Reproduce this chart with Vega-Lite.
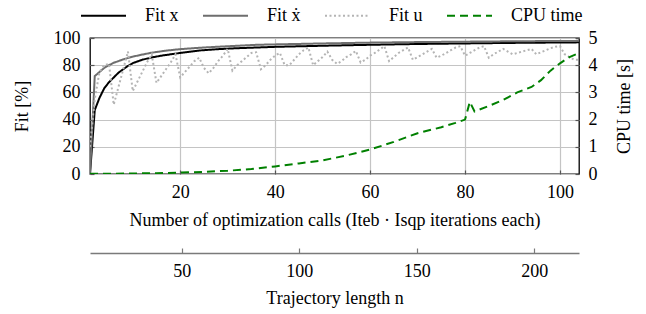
{
  "$schema": "https://vega.github.io/schema/vega-lite/v6.json",
  "width": 489,
  "height": 136,
  "autosize": {"type": "none"},
  "padding": {"left": 90, "top": 38, "right": 67, "bottom": 140},
  "config": {
    "view": {"stroke": "#000000", "strokeWidth": 1.3},
    "axis": {
      "labelFontSize": 18,
      "titleFontSize": 18,
      "titleFontWeight": "normal",
      "labelColor": "#000000",
      "titleColor": "#000000",
      "gridColor": "#c4c4c4",
      "gridWidth": 1.2,
      "tickColor": "#555555",
      "tickWidth": 1.2
    },
    "legend": {"labelFontSize": 18, "labelColor": "#000000", "labelFont": "Liberation Serif"}
  },
  "datasets": {
    "fits": [
      {"s": "x", "k": 1, "v": 0}, {"s": "x", "k": 2, "v": 47}, {"s": "x", "k": 3, "v": 56}, {"s": "x", "k": 4, "v": 63},
      {"s": "x", "k": 5, "v": 67.5}, {"s": "x", "k": 6, "v": 71}, {"s": "x", "k": 7, "v": 74.5}, {"s": "x", "k": 8, "v": 77},
      {"s": "x", "k": 9, "v": 79.5}, {"s": "x", "k": 10, "v": 81.5}, {"s": "x", "k": 12, "v": 84}, {"s": "x", "k": 14, "v": 85.7},
      {"s": "x", "k": 16, "v": 87}, {"s": "x", "k": 18, "v": 88}, {"s": "x", "k": 20, "v": 89}, {"s": "x", "k": 24, "v": 90.8},
      {"s": "x", "k": 28, "v": 91.8}, {"s": "x", "k": 32, "v": 92.5}, {"s": "x", "k": 36, "v": 93}, {"s": "x", "k": 40, "v": 93.5},
      {"s": "x", "k": 50, "v": 94.3}, {"s": "x", "k": 60, "v": 95}, {"s": "x", "k": 70, "v": 95.6}, {"s": "x", "k": 80, "v": 96},
      {"s": "x", "k": 90, "v": 96.4}, {"s": "x", "k": 104, "v": 96.8},
      {"s": "xd", "k": 1, "v": 0}, {"s": "xd", "k": 2, "v": 72}, {"s": "xd", "k": 3, "v": 75}, {"s": "xd", "k": 4, "v": 78},
      {"s": "xd", "k": 5, "v": 80}, {"s": "xd", "k": 6, "v": 81.8}, {"s": "xd", "k": 7, "v": 83}, {"s": "xd", "k": 8, "v": 84.3},
      {"s": "xd", "k": 10, "v": 86.3}, {"s": "xd", "k": 12, "v": 87.8}, {"s": "xd", "k": 14, "v": 89.2}, {"s": "xd", "k": 17, "v": 90.7},
      {"s": "xd", "k": 20, "v": 91.8}, {"s": "xd", "k": 24, "v": 92.8}, {"s": "xd", "k": 28, "v": 93.6}, {"s": "xd", "k": 32, "v": 94.3},
      {"s": "xd", "k": 36, "v": 95}, {"s": "xd", "k": 40, "v": 95.3}, {"s": "xd", "k": 50, "v": 96}, {"s": "xd", "k": 60, "v": 96.6},
      {"s": "xd", "k": 70, "v": 97}, {"s": "xd", "k": 80, "v": 97.3}, {"s": "xd", "k": 90, "v": 97.6}, {"s": "xd", "k": 104, "v": 97.9},
      {"s": "u", "k": 1, "v": 20}, {"s": "u", "k": 2, "v": 55}, {"s": "u", "k": 3, "v": 75}, {"s": "u", "k": 4, "v": 80},
      {"s": "u", "k": 5, "v": 81}, {"s": "u", "k": 6, "v": 51}, {"s": "u", "k": 7, "v": 64}, {"s": "u", "k": 8, "v": 77},
      {"s": "u", "k": 9, "v": 90}, {"s": "u", "k": 10, "v": 61}, {"s": "u", "k": 11, "v": 68}, {"s": "u", "k": 12, "v": 75},
      {"s": "u", "k": 13, "v": 82}, {"s": "u", "k": 14, "v": 88}, {"s": "u", "k": 15, "v": 67}, {"s": "u", "k": 16, "v": 72},
      {"s": "u", "k": 17, "v": 77}, {"s": "u", "k": 18, "v": 82}, {"s": "u", "k": 19, "v": 88}, {"s": "u", "k": 20, "v": 71},
      {"s": "u", "k": 21, "v": 75}, {"s": "u", "k": 22, "v": 79}, {"s": "u", "k": 23, "v": 83}, {"s": "u", "k": 24, "v": 85.5},
      {"s": "u", "k": 25, "v": 78}, {"s": "u", "k": 26, "v": 74}, {"s": "u", "k": 27, "v": 78}, {"s": "u", "k": 28, "v": 83},
      {"s": "u", "k": 29, "v": 87}, {"s": "u", "k": 30, "v": 92}, {"s": "u", "k": 31, "v": 76}, {"s": "u", "k": 32, "v": 80},
      {"s": "u", "k": 33, "v": 83}, {"s": "u", "k": 34, "v": 86}, {"s": "u", "k": 35, "v": 89}, {"s": "u", "k": 36, "v": 89.5},
      {"s": "u", "k": 37, "v": 77}, {"s": "u", "k": 38, "v": 80}, {"s": "u", "k": 39, "v": 84}, {"s": "u", "k": 40, "v": 87},
      {"s": "u", "k": 41, "v": 89}, {"s": "u", "k": 42, "v": 80}, {"s": "u", "k": 43, "v": 80}, {"s": "u", "k": 44, "v": 84},
      {"s": "u", "k": 45, "v": 88}, {"s": "u", "k": 46, "v": 91}, {"s": "u", "k": 47, "v": 93}, {"s": "u", "k": 48, "v": 80},
      {"s": "u", "k": 49, "v": 83}, {"s": "u", "k": 50, "v": 86}, {"s": "u", "k": 51, "v": 90}, {"s": "u", "k": 52, "v": 84},
      {"s": "u", "k": 53, "v": 81}, {"s": "u", "k": 54, "v": 83}, {"s": "u", "k": 55, "v": 86}, {"s": "u", "k": 56, "v": 88},
      {"s": "u", "k": 57, "v": 90.5}, {"s": "u", "k": 58, "v": 82}, {"s": "u", "k": 59, "v": 84}, {"s": "u", "k": 60, "v": 87},
      {"s": "u", "k": 61, "v": 89}, {"s": "u", "k": 62, "v": 91.5}, {"s": "u", "k": 63, "v": 94}, {"s": "u", "k": 64, "v": 83},
      {"s": "u", "k": 65, "v": 86}, {"s": "u", "k": 66, "v": 89}, {"s": "u", "k": 67, "v": 91}, {"s": "u", "k": 68, "v": 93},
      {"s": "u", "k": 69, "v": 84}, {"s": "u", "k": 70, "v": 86}, {"s": "u", "k": 71, "v": 88}, {"s": "u", "k": 72, "v": 90},
      {"s": "u", "k": 73, "v": 92}, {"s": "u", "k": 74, "v": 85.5}, {"s": "u", "k": 75, "v": 87}, {"s": "u", "k": 76, "v": 89},
      {"s": "u", "k": 77, "v": 91}, {"s": "u", "k": 78, "v": 93}, {"s": "u", "k": 79, "v": 94}, {"s": "u", "k": 80, "v": 87},
      {"s": "u", "k": 81, "v": 89}, {"s": "u", "k": 82, "v": 91}, {"s": "u", "k": 83, "v": 93}, {"s": "u", "k": 84, "v": 94},
      {"s": "u", "k": 85, "v": 85.5}, {"s": "u", "k": 86, "v": 88}, {"s": "u", "k": 87, "v": 90}, {"s": "u", "k": 88, "v": 92},
      {"s": "u", "k": 89, "v": 90}, {"s": "u", "k": 90, "v": 88}, {"s": "u", "k": 91, "v": 89}, {"s": "u", "k": 92, "v": 90},
      {"s": "u", "k": 93, "v": 91}, {"s": "u", "k": 94, "v": 92}, {"s": "u", "k": 95, "v": 88}, {"s": "u", "k": 96, "v": 89.5},
      {"s": "u", "k": 97, "v": 91}, {"s": "u", "k": 98, "v": 92.5}, {"s": "u", "k": 99, "v": 93.5}, {"s": "u", "k": 100, "v": 94},
      {"s": "u", "k": 101, "v": 88}, {"s": "u", "k": 102, "v": 86}, {"s": "u", "k": 103, "v": 84}, {"s": "u", "k": 104, "v": 84}
    ],
    "cpu": [
      {"s": "cpu", "k": 1, "t": 0.01}, {"s": "cpu", "k": 5, "t": 0.01}, {"s": "cpu", "k": 10, "t": 0.02}, {"s": "cpu", "k": 15, "t": 0.03},
      {"s": "cpu", "k": 20, "t": 0.05}, {"s": "cpu", "k": 25, "t": 0.08}, {"s": "cpu", "k": 30, "t": 0.12}, {"s": "cpu", "k": 35, "t": 0.18},
      {"s": "cpu", "k": 40, "t": 0.28}, {"s": "cpu", "k": 45, "t": 0.39}, {"s": "cpu", "k": 50, "t": 0.5}, {"s": "cpu", "k": 55, "t": 0.68},
      {"s": "cpu", "k": 60, "t": 0.9}, {"s": "cpu", "k": 65, "t": 1.18}, {"s": "cpu", "k": 70, "t": 1.5}, {"s": "cpu", "k": 75, "t": 1.72},
      {"s": "cpu", "k": 78, "t": 1.88}, {"s": "cpu", "k": 80, "t": 2.0}, {"s": "cpu", "k": 81, "t": 2.65}, {"s": "cpu", "k": 82, "t": 2.3},
      {"s": "cpu", "k": 85, "t": 2.5}, {"s": "cpu", "k": 88, "t": 2.72}, {"s": "cpu", "k": 91, "t": 3.0}, {"s": "cpu", "k": 94, "t": 3.2},
      {"s": "cpu", "k": 96, "t": 3.45}, {"s": "cpu", "k": 98, "t": 3.8}, {"s": "cpu", "k": 100, "t": 4.07}, {"s": "cpu", "k": 102, "t": 4.3},
      {"s": "cpu", "k": 104, "t": 4.45}
    ],
    "traj": [{"n": 11}, {"n": 219}]
  },
  "layer": [
    {
      "layer": [
        {
          "data": {"name": "fits"},
          "mark": {"type": "line", "strokeWidth": 2, "clip": true},
          "encoding": {
            "x": {
              "field": "k", "type": "quantitative",
              "scale": {"domain": [1, 104], "nice": false, "zero": false},
              "axis": {
                "values": [20, 40, 60, 80, 100], "grid": true, "domain": false,
                "labelFont": "Liberation Serif", "titleFont": "Liberation Serif",
                "tickSize": -4, "labelPadding": 13,
                "title": "Number of optimization calls (Iteb · Isqp iterations each)",
                "titlePadding": 10
              }
            },
            "y": {
              "field": "v", "type": "quantitative",
              "scale": {"domain": [0, 100], "nice": false},
              "axis": {
                "values": [0, 20, 40, 60, 80, 100], "grid": true, "domain": false,
                "labelFont": "Liberation Serif", "titleFont": "Liberation Serif",
                "tickSize": -4, "labelPadding": 14, "title": "Fit [%]", "titlePadding": 22
              }
            },
            "color": {
              "field": "s", "type": "nominal",
              "scale": {"domain": ["x", "xd", "u", "cpu"], "range": ["#000000", "#6e6e6e", "#b4b4b4", "#008000"]},
              "legend": {
                "title": null, "orient": "none", "direction": "horizontal",
                "legendX": -10, "legendY": -46, "padding": 0, "labelFont": "Liberation Serif",
                "symbolType": "stroke", "symbolSize": 2025, "symbolStrokeWidth": 2,
                "labelOffset": 18, "columnPadding": 20,
                "labelExpr": "datum.label == 'x' ? 'Fit x' : datum.label == 'xd' ? 'Fit ẋ' : datum.label == 'u' ? 'Fit u' : 'CPU time'"
              }
            },
            "strokeDash": {
              "field": "s", "type": "nominal",
              "scale": {"domain": ["x", "xd", "u", "cpu"], "range": [[1, 0], [1, 0], [2, 2.5], [8, 5]]},
              "legend": {
                "title": null, "orient": "none", "direction": "horizontal",
                "legendX": -10, "legendY": -46, "padding": 0, "labelFont": "Liberation Serif",
                "symbolType": "stroke", "symbolSize": 2025, "symbolStrokeWidth": 2,
                "labelOffset": 18, "columnPadding": 20,
                "labelExpr": "datum.label == 'x' ? 'Fit x' : datum.label == 'xd' ? 'Fit ẋ' : datum.label == 'u' ? 'Fit u' : 'CPU time'"
              }
            }
          }
        },
        {
          "data": {"name": "cpu"},
          "mark": {"type": "line", "strokeWidth": 2, "clip": true},
          "encoding": {
            "x": {"field": "k", "type": "quantitative"},
            "y": {
              "field": "t", "type": "quantitative",
              "scale": {"domain": [0, 5], "nice": false},
              "axis": {
                "orient": "right", "values": [0, 1, 2, 3, 4, 5], "grid": false, "domain": false,
                "labelFont": "Liberation Serif", "titleFont": "Liberation Serif",
                "tickSize": -4, "labelPadding": 13, "title": "CPU time [s]", "titleAngle": 270, "titlePadding": 36
              }
            },
            "color": {"field": "s", "type": "nominal"},
            "strokeDash": {"field": "s", "type": "nominal"}
          }
        }
      ],
      "resolve": {"scale": {"y": "independent"}}
    },
    {
      "data": {"name": "traj"},
      "mark": {"type": "rule", "opacity": 0},
      "encoding": {
        "x": {
          "field": "n", "type": "quantitative",
          "scale": {"domain": [11, 219], "nice": false, "zero": false},
          "axis": {
            "orient": "bottom", "offset": 79, "values": [50, 100, 150, 200], "grid": false,
            "labelFont": "Liberation Serif", "titleFont": "Liberation Serif",
            "domain": true, "domainColor": "#7a7a7a", "domainWidth": 1.5,
            "tickColor": "#7a7a7a", "tickSize": -5, "labelPadding": 14,
            "title": "Trajectory length n", "titlePadding": 9
          }
        }
      }
    }
  ],
  "resolve": {"scale": {"x": "independent", "y": "independent"}}
}
